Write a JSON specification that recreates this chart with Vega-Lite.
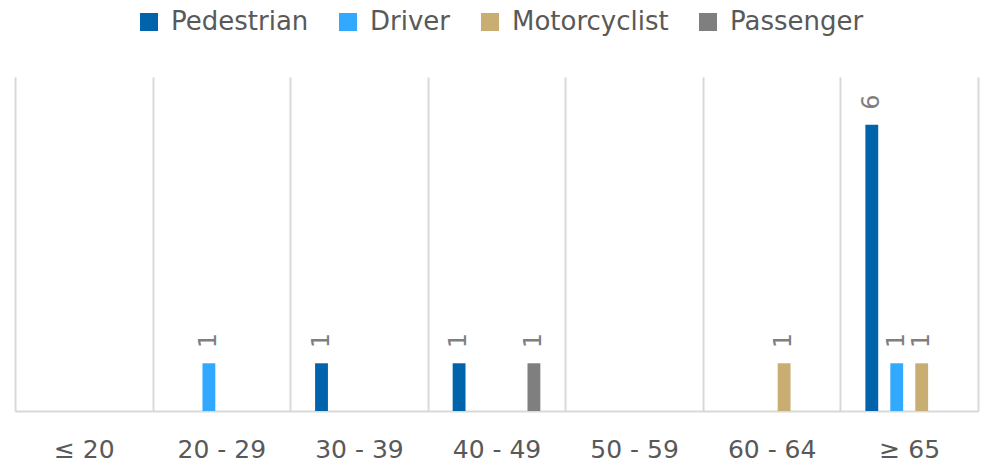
{
  "$schema": "https://vega.github.io/schema/vega-lite/v6.json",
  "width": 963,
  "height": 334,
  "autosize": {"type": "none"},
  "padding": {"left": 15, "top": 77, "right": 7, "bottom": 51},
  "background": "white",
  "config": {"view": {"stroke": null}, "font": "DejaVu Sans"},
  "data": {
    "values": [
      {"age": "20 - 29", "type": "Driver", "count": 1},
      {"age": "30 - 39", "type": "Pedestrian", "count": 1},
      {"age": "40 - 49", "type": "Pedestrian", "count": 1},
      {"age": "40 - 49", "type": "Passenger", "count": 1},
      {"age": "60 - 64", "type": "Motorcyclist", "count": 1},
      {"age": "≥ 65", "type": "Pedestrian", "count": 6},
      {"age": "≥ 65", "type": "Driver", "count": 1},
      {"age": "≥ 65", "type": "Motorcyclist", "count": 1}
    ]
  },
  "encoding": {
    "x": {
      "field": "age",
      "type": "nominal",
      "sort": null,
      "scale": {"domain": ["≤ 20", "20 - 29", "30 - 39", "40 - 49", "50 - 59", "60 - 64", "≥ 65"], "paddingInner": 0, "paddingOuter": 0},
      "axis": {
        "title": null,
        "labelAngle": 0,
        "labelFont": "DejaVu Sans",
        "labelFontSize": 25,
        "labelColor": "#595959",
        "labelPadding": 26,
        "ticks": false,
        "tickBand": "extent",
        "grid": true,
        "gridColor": "#d9d9d9",
        "gridWidth": 2,
        "domain": true,
        "domainColor": "#d9d9d9",
        "domainWidth": 2
      }
    },
    "xOffset": {
      "field": "type",
      "type": "nominal",
      "scale": {"domain": ["Pedestrian", "Driver", "Motorcyclist", "Passenger"], "paddingInner": 0.485, "paddingOuter": 1.19}
    },
    "y": {
      "field": "count",
      "type": "quantitative",
      "scale": {"domain": [0, 7], "nice": false},
      "axis": null
    }
  },
  "layer": [
    {
      "mark": {"type": "bar"},
      "encoding": {
        "color": {
          "field": "type",
          "type": "nominal",
          "scale": {"domain": ["Pedestrian", "Driver", "Motorcyclist", "Passenger"], "range": ["#0063ab", "#33a8ff", "#c9ae74", "#7f7f7f"]},
          "legend": {
            "title": null,
            "orient": "none",
            "legendX": 121,
            "legendY": -68,
            "direction": "horizontal",
            "columns": 4,
            "padding": 0,
            "symbolType": "square",
            "symbolSize": 324,
            "symbolStrokeWidth": 0,
            "symbolOpacity": 1,
            "labelFont": "DejaVu Sans",
            "labelFontSize": 26,
            "labelColor": "#595959",
            "labelOffset": 9,
            "labelLimit": 300,
            "columnPadding": 26
          }
        }
      }
    },
    {
      "mark": {"type": "text", "angle": 270, "align": "left", "baseline": "middle", "dx": 15, "font": "DejaVu Sans", "fontSize": 24, "color": "#7f7f7f"},
      "encoding": {"text": {"field": "count", "type": "quantitative"}}
    }
  ]
}
